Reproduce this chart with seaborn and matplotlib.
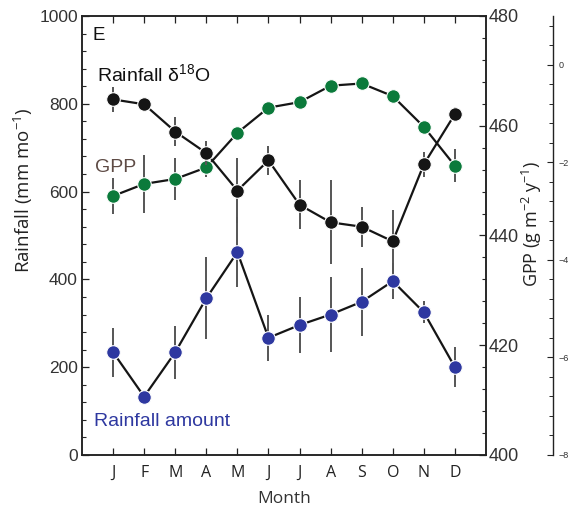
import numpy as np
import pandas as pd
import matplotlib
matplotlib.use("Agg")
import matplotlib.pyplot as plt
from matplotlib.ticker import MultipleLocator, FixedLocator
import seaborn as sns

# ---- data ----
months = ["J", "F", "M", "A", "M", "J", "J", "A", "S", "O", "N", "D"]
month_pos = list(range(1, 13))

rain_amount = [234, 133, 234, 357, 462, 267, 296, 320, 349, 396, 325, 200]
rain_amount_err = [56, 10, 60, 93, 80, 53, 63, 85, 78, 41, 25, 45]

gpp = [447.2, 449.4, 450.3, 452.4, 458.7, 463.3, 464.3, 467.3, 467.7, 465.4, 459.8, 452.7]
gpp_err = [3.3, 5.3, 3.8, 1.8, 0.5, 0.5, 0.5, 0.5, 0.5, 0.5, 0.8, 3.0]

d18o = [-0.71, -0.81, -1.37, -1.81, -2.58, -1.96, -2.87, -3.23, -3.32, -3.62, -2.04, -1.01]
d18o_err = [0.26, 0.05, 0.29, 0.25, 0.66, 0.29, 0.50, 0.86, 0.41, 0.65, 0.26, 0.15]

rain_ticks = [0, 200, 400, 600, 800, 1000]
gpp_ticks = [400, 420, 440, 460, 480]
d18o_ticks = [0, -2, -4, -6, -8]

df = pd.DataFrame({"pos": month_pos, "rain": rain_amount, "gpp": gpp, "d18o": d18o})

# ---- style ----
sns.set_theme(style="ticks")
plt.rcParams["font.family"] = ["Liberation Sans", "DejaVu Sans"]

BLUE = "#2e38a0"
GREEN = "#0b7a3b"
BLACK = "#151515"
ERR = "#555555"
BROWN = "#5e4b45"

fig = plt.figure(figsize=(5.70, 5.17), dpi=100)
ax = fig.add_axes([82 / 570, 1 - 455 / 517, 404 / 570, 439 / 517])
ax2 = ax.twinx()
ax3 = ax.twinx()

mk = dict(marker="o", markersize=9.8, markeredgecolor="white", markeredgewidth=0.8)

# Rainfall amount
ax.errorbar(df["pos"], df["rain"], yerr=rain_amount_err, fmt="none",
            ecolor=ERR, elinewidth=1.4, capsize=0, zorder=1)
sns.lineplot(data=df, x="pos", y="rain", ax=ax, color=BLACK, lw=1.6,
             markerfacecolor=BLUE, zorder=3, **mk)

# GPP
ax2.errorbar(df["pos"], df["gpp"], yerr=gpp_err, fmt="none",
             ecolor=ERR, elinewidth=1.4, capsize=0, zorder=1)
sns.lineplot(data=df, x="pos", y="gpp", ax=ax2, color=BLACK, lw=1.6,
             markerfacecolor=GREEN, zorder=3, **mk)

# Rainfall d18O
ax3.errorbar(df["pos"], df["d18o"], yerr=d18o_err, fmt="none",
             ecolor=ERR, elinewidth=1.4, capsize=0, zorder=1)
sns.lineplot(data=df, x="pos", y="d18o", ax=ax3, color=BLACK, lw=1.6,
             markerfacecolor=BLACK, zorder=3, **mk)

# ---- axes ----
ax.set_xlim(0, 13)
ax.set_ylim(0, 1000)
ax2.set_ylim(400, 480)
ax3.set_ylim(-8, 1)

ax.set_xticks(month_pos)
ax.set_xticklabels(months, fontfamily="Open Sans", fontsize=11.5, color="#333333")
ax.set_yticks(rain_ticks)
ax.yaxis.set_minor_locator(MultipleLocator(40))
ax.tick_params(axis="y", labelsize=12.5, direction="in", length=5, width=0.9,
               colors="#222222", labelcolor="#333333", pad=3)
ax.tick_params(axis="y", which="minor", direction="in", length=3, width=0.8)
ax.tick_params(axis="x", direction="in", length=5, width=0.9, top=True, pad=7,
               colors="#222222")
ax.set_xlabel("")
ax.set_ylabel("")

ax2.set_yticks(gpp_ticks)
ax2.yaxis.set_minor_locator(MultipleLocator(4))
ax2.tick_params(axis="y", labelsize=13, direction="in", length=5, width=0.9,
                colors="#222222", labelcolor="#333333", pad=2)
ax2.tick_params(axis="y", which="minor", direction="in", length=3, width=0.8)
ax2.set_ylabel("")

ax3.spines["right"].set_position(("axes", 1.166))
for s in ["top", "left", "bottom"]:
    ax3.spines[s].set_visible(False)
ax3.spines["right"].set_linewidth(1.0)
ax3.spines["right"].set_color("#222222")
ax3.set_yticks(d18o_ticks)
ax3.yaxis.set_minor_locator(FixedLocator([round(0.8 - 0.4 * k, 1) for k in range(0, 22)]))
ax3.tick_params(axis="y", labelsize=6.5, direction="in", length=4, width=0.8,
                colors="#222222", labelcolor="#333333", pad=4)
ax3.tick_params(axis="y", which="minor", direction="in", length=3, width=0.7)
ax3.set_ylabel("")

for a in (ax, ax2):
    for s in a.spines.values():
        s.set_linewidth(1.1)
        s.set_color("#222222")

# ---- labels ----
fig.text(532 / 570, 1 - 224 / 517, "GPP (g m$^{\\mathregular{-2}}$ y$^{\\mathregular{-1}}$)", rotation=90,
         ha="center", va="center", fontsize=13, fontfamily="Open Sans", color="#222222")
fig.text(23 / 570, 1 - 190 / 517, "Rainfall (mm mo$^{\\mathregular{-1}}$)", rotation=90,
         ha="center", va="center", fontsize=13.5, fontfamily="Open Sans", color="#222222")
fig.text((82 + 404 * 6.5 / 13) / 570, 1 - 499 / 517, "Month", ha="center", va="center",
         fontsize=12.5, fontfamily="Open Sans", color="#333333")

ax.text(0.025, 0.945, "E", transform=ax.transAxes, fontsize=13.5, color="#111111",
        va="baseline", ha="left")
ax.text(0.037, 0.852, r"Rainfall $\mathregular{\delta^{18}}$O", transform=ax.transAxes,
        fontsize=14, color="#111111", va="baseline", ha="left")
ax.text(0.032, 0.645, "GPP", transform=ax.transAxes, fontsize=14, color=BROWN,
        va="baseline", ha="left")
ax.text(0.03, 0.066, "Rainfall amount", transform=ax.transAxes, fontsize=14,
        color=BLUE, va="baseline", ha="left")

fig.savefig("out.png", dpi=100)
